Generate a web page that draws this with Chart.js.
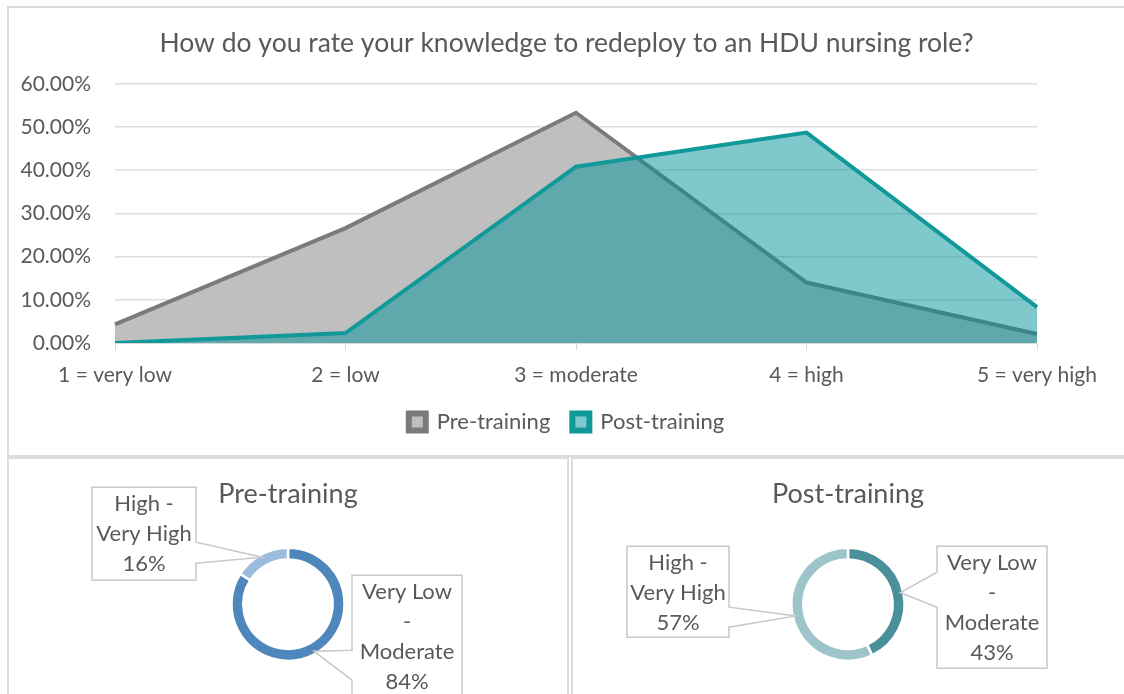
<!DOCTYPE html>
<html>
<head>
<meta charset="utf-8">
<script src="https://cdn.jsdelivr.net/npm/chart.js@4/dist/chart.umd.min.js"></script>
<style>
  html, body { margin:0; padding:0; background:#fff; }
  #wrap { position:relative; width:1124px; height:694px; overflow:hidden; background:#fff; }
  .panel { position:absolute; border:2px solid #dcdcdc; box-sizing:border-box; }
  canvas { position:absolute; }
</style>
</head>
<body>
<div id="wrap">
  <div class="panel" style="left:7px; top:6px; width:1140px; height:451px;"></div>
  <div class="panel" style="left:7px; top:457px; width:562px; height:260px;"></div>
  <div class="panel" style="left:571px; top:457px; width:580px; height:260px;"></div>
  <canvas id="area" style="left:9px; top:8px;" width="1115" height="447"></canvas>
  <canvas id="pre" style="left:9px; top:459px;" width="558" height="235"></canvas>
  <canvas id="post" style="left:573px; top:459px;" width="551" height="235"></canvas>
</div>
<script>
// ---- data ----
const chartTitle = 'How do you rate your knowledge to redeploy to an HDU nursing role?';
const categories = ['1 = very low', '2 = low', '3 = moderate', '4 = high', '5 = very high'];
const preTraining = [4.3, 26.6, 53.3, 14.0, 2.1];
const postTraining = [0, 2.3, 40.8, 48.7, 8.3];
const seriesNames = ['Pre-training', 'Post-training'];
const yTicks = [0, 10, 20, 30, 40, 50, 60];

const groupLabels = ['Very Low - Moderate', 'High - Very High'];
const groupLines = [['Very Low', '-', 'Moderate'], ['High -', 'Very High']];
const prePie = [84, 16];
const postPie = [43, 57];

const TEXT = '#595959';
Chart.defaults.font.family = 'Lato, "Open Sans", sans-serif';
Chart.defaults.color = TEXT;
Chart.defaults.animation = false;

// ---- area chart ----
new Chart(document.getElementById('area'), {
  type: 'line',
  data: {
    labels: categories,
    datasets: [
      { label: seriesNames[0], data: preTraining, order: 2,
        borderColor: '#7b7b7b', backgroundColor: '#bfbfbf', borderWidth: 4,
        fill: 'origin', pointRadius: 0, tension: 0, borderJoinStyle: 'miter' },
      { label: seriesNames[1], data: postTraining, order: 1,
        borderColor: '#11999a', backgroundColor: 'rgba(0,145,151,0.5)', borderWidth: 4,
        fill: 'origin', pointRadius: 0, tension: 0, borderJoinStyle: 'miter' }
    ]
  },
  options: {
    responsive: false,
    layout: { padding: { top: 20, right: 0, bottom: 12, left: 0 } },
    plugins: {
      title: { display: true, text: chartTitle, color: TEXT,
        font: { size: 26.5, weight: 'normal' }, padding: { top: 0, bottom: 24 } },
      legend: { position: 'bottom',
        labels: { boxWidth: 17, boxHeight: 17, padding: 22, color: TEXT, font: { size: 22 },
          sort: (a, b) => a.datasetIndex - b.datasetIndex,
          generateLabels: (chart) => Chart.defaults.plugins.legend.labels.generateLabels(chart)
            .map(l => Object.assign(l, { lineWidth: 6 })) } },
      tooltip: { enabled: false }
    },
    scales: {
      x: {
        offset: false,
        grid: { drawOnChartArea: false, drawTicks: true, tickLength: 7, color: '#d9d9d9' },
        border: { display: true, color: '#d9d9d9' },
        ticks: { color: TEXT, font: { size: 21 }, padding: 13, maxRotation: 0, autoSkip: false },
        afterFit: (s) => { s.height = 46; }
      },
      y: {
        min: 0, max: 60,
        afterBuildTicks: (s) => { s.ticks = yTicks.map(v => ({ value: v })); },
        grid: { color: '#dedede', lineWidth: 1.5, drawTicks: false },
        border: { display: false },
        ticks: { color: TEXT, font: { size: 21 }, padding: 24,
          callback: (v) => Number(v).toFixed(2) + '%' },
        afterFit: (s) => { s.width = 106; }
      },
      yRight: {
        position: 'right', display: true,
        grid: { display: false }, border: { display: false },
        ticks: { display: false },
        afterFit: (s) => { s.width = 87; }
      }
    }
  }
});

// ---- doughnuts with callouts ----
const calloutPlugin = {
  id: 'callouts',
  afterDraw(chart, args, opts) {
    const ctx = chart.ctx;
    const meta = chart.getDatasetMeta(0);
    const values = chart.data.datasets[0].data;
    opts.boxes.forEach(b => {
      const arc = meta.data[b.index];
      const p = arc.getProps(['x', 'y', 'startAngle', 'endAngle', 'outerRadius'], true);
      const mid = (p.startAngle + p.endAngle) / 2;
      const r = p.outerRadius - 3;
      const tx = p.x + Math.cos(mid) * r, ty = p.y + Math.sin(mid) * r;
      const L = p.x + b.x1, R = p.x + b.x2, T = p.y + b.y1, B = p.y + b.y2;
      ctx.save();
      ctx.beginPath();
      if (b.side === 'right') {
        ctx.moveTo(L, T); ctx.lineTo(R, T); ctx.lineTo(R, p.y + b.p1);
        ctx.lineTo(tx, ty); ctx.lineTo(R, p.y + b.p2); ctx.lineTo(R, B); ctx.lineTo(L, B);
      } else {
        ctx.moveTo(L, T); ctx.lineTo(R, T); ctx.lineTo(R, B); ctx.lineTo(L, B);
        ctx.lineTo(L, p.y + b.p2); ctx.lineTo(tx, ty); ctx.lineTo(L, p.y + b.p1);
      }
      ctx.closePath();
      ctx.fillStyle = '#ffffff';
      ctx.fill();
      ctx.strokeStyle = '#c8c8c8';
      ctx.lineWidth = 1.5;
      ctx.stroke();
      const lines = groupLines[b.index].concat([values[b.index] + '%']);
      ctx.fillStyle = TEXT;
      ctx.font = '22px Lato, "Open Sans", sans-serif';
      ctx.textAlign = 'center';
      ctx.textBaseline = 'middle';
      lines.forEach((t, i) => ctx.fillText(t, (L + R) / 2, T + 17 + i * 30));
      ctx.restore();
    });
  }
};

function makeDonut(id, title, values, colors, pad, boxes) {
  new Chart(document.getElementById(id), {
    type: 'doughnut',
    data: { labels: groupLabels, datasets: [{ data: values, backgroundColor: colors,
      borderColor: '#ffffff', borderWidth: 2.5 }] },
    options: {
      responsive: false,
      cutout: '79%',
      layout: { padding: pad },
      plugins: {
        title: { display: true, text: title, color: TEXT, font: { size: 27, weight: 'normal' },
          padding: { top: 0, bottom: 36 } },
        legend: { display: false },
        tooltip: { enabled: false },
        callouts: { boxes: boxes }
      }
    },
    plugins: [calloutPlugin]
  });
}

makeDonut('pre', seriesNames[0], prePie, ['#4e87bb', '#9dbcdd'],
  { top: 19, bottom: 32, left: 0, right: 0 },
  [
    { index: 1, side: 'right', x1: -196, x2: -92, y1: -117, y2: -24, p1: -62, p2: -41 },
    { index: 0, side: 'left', x1: 64, x2: 174, y1: -29, y2: 120, p1: 46, p2: 76 }
  ]);

makeDonut('post', seriesNames[1], postPie, ['#4a909a', '#9ec4cb'],
  { top: 19, bottom: 32, left: 0, right: 1 },
  [
    { index: 1, side: 'right', x1: -221, x2: -119, y1: -58, y2: 33, p1: 3, p2: 23 },
    { index: 0, side: 'left', x1: 89, x2: 199, y1: -58, y2: 64, p1: -32, p2: 3 }
  ]);
</script>
</body>
</html>
